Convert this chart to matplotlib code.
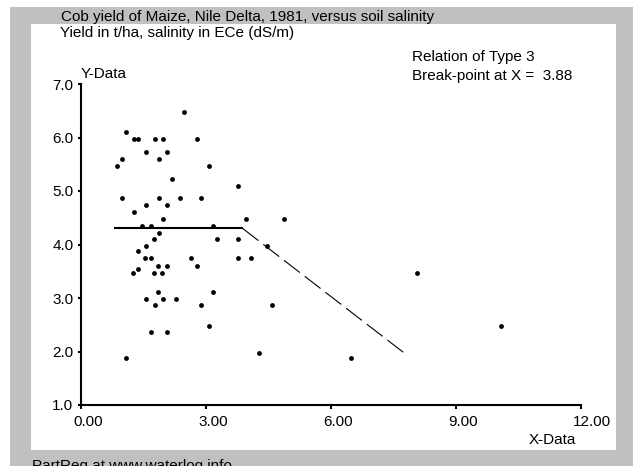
import matplotlib
matplotlib.use("Agg")
import matplotlib.pyplot as plt
from matplotlib.patches import Rectangle
from matplotlib.transforms import ScaledTranslation

plt.rcParams['font.family'] = ['Liberation Sans', 'DejaVu Sans']

# salinity ECe (dS/m) vs cob yield (t/ha)
salinity = [2.47, 1.08, 1.26, 1.37, 1.78, 1.97, 2.78, 1.56, 2.06, 0.98,
            1.87, 0.86, 3.07, 2.18, 3.77, 0.98, 1.87, 2.38, 2.88, 1.56,
            2.06, 1.27, 1.97, 3.96, 1.46, 1.68, 3.17, 1.87, 1.75, 3.26,
            3.77, 1.56, 1.37, 4.86, 4.46, 4.08, 8.06, 4.58, 10.07, 4.27,
            6.48, 1.54, 1.68, 2.65, 3.77, 1.84, 2.06, 2.78, 1.37, 1.24,
            1.75, 1.94, 1.84, 3.17, 1.56, 1.97, 2.28, 1.78, 2.88, 3.07,
            1.68, 2.06, 1.08]
yield_t = [6.47, 6.11, 5.98, 5.98, 5.98, 5.98, 5.98, 5.72, 5.72, 5.60,
           5.60, 5.47, 5.47, 5.23, 5.10, 4.86, 4.86, 4.86, 4.86, 4.73,
           4.73, 4.61, 4.48, 4.48, 4.35, 4.35, 4.35, 4.22, 4.11, 4.11,
           4.11, 3.98, 3.87, 4.48, 3.98, 3.74, 3.47, 2.86, 2.48, 1.98,
           1.87, 3.74, 3.74, 3.74, 3.74, 3.60, 3.60, 3.60, 3.55, 3.47,
           3.47, 3.47, 3.12, 3.12, 2.99, 2.99, 2.99, 2.86, 2.86, 2.48,
           2.37, 2.37, 1.87]

# fitted broken-line relation (type 3)
flat_x = [0.80, 3.88]
flat_y = [4.30, 4.30]
slope_x = [3.88, 7.76]
slope_y = [4.30, 1.97]

x_ticks = [0, 3, 6, 9, 12]
x_labels = ["0.00", "3.00", "6.00", "9.00", "12.00"]
y_ticks = [1, 2, 3, 4, 5, 6, 7]
y_labels = ["1.0", "2.0", "3.0", "4.0", "5.0", "6.0", "7.0"]

W, H = 633, 466
fig = plt.figure(figsize=(W / 100, H / 100), dpi=100)
fig.patch.set_facecolor("white")

# grey frame and white panel, in pixels
def px_rect(x0, y0, x1, y1, color):
    fig.patches.append(Rectangle((x0 / W, 1 - y1 / H), (x1 - x0) / W, (y1 - y0) / H,
                                 transform=fig.transFigure, facecolor=color,
                                 edgecolor="none", zorder=-10))

px_rect(10, 7, W, H, "#c0c0c0")
px_rect(31, 24, 616, 450, "white")

ax = fig.add_axes([81 / W, 1 - 405 / H, 500 / W, 321 / H])
ax.set_facecolor("none")
ax.set_xlim(0, 12)
ax.set_ylim(1, 7)

ax.scatter(salinity, yield_t, s=12, color="black", linewidths=0, zorder=3)
ax.plot(flat_x, flat_y, color="black", lw=1.5, solid_capstyle="butt")
ax.plot(slope_x, slope_y, color="black", lw=0.8, dashes=(18, 5.5))

for s in ["top", "right"]:
    ax.spines[s].set_visible(False)
for s in ["left", "bottom"]:
    ax.spines[s].set_linewidth(1.5)
    ax.spines[s].set_capstyle("projecting")

ax.set_xticks(x_ticks)
ax.set_xticklabels(x_labels, fontsize=11, ha="left")
ax.set_yticks(y_ticks)
ax.set_yticklabels(y_labels, fontsize=11)
ax.tick_params(axis="x", direction="out", length=3, width=1.5, pad=4)
ax.tick_params(axis="y", direction="out", length=2.5, width=1.5, pad=3)
shift = ScaledTranslation(-8 / 100, 0, fig.dpi_scale_trans)
for lbl in ax.get_xticklabels():
    lbl.set_transform(lbl.get_transform() + shift)

def px_text(x, y, s, ha="left"):
    fig.text(x / W, 1 - y / H, s, ha=ha, va="center", fontsize=11)

px_text(61, 17, "Cob yield of Maize, Nile Delta, 1981, versus soil salinity")
px_text(60, 33, "Yield in t/ha, salinity in ECe (dS/m)")
px_text(81, 74, "Y-Data")
px_text(412, 57, "Relation of Type 3")
px_text(412, 76, "Break-point at X =  3.88")
px_text(576, 440, "X-Data", ha="right")
px_text(32, 466, "PartReg at www.waterlog.info")

fig.savefig("out.png", dpi=100)
